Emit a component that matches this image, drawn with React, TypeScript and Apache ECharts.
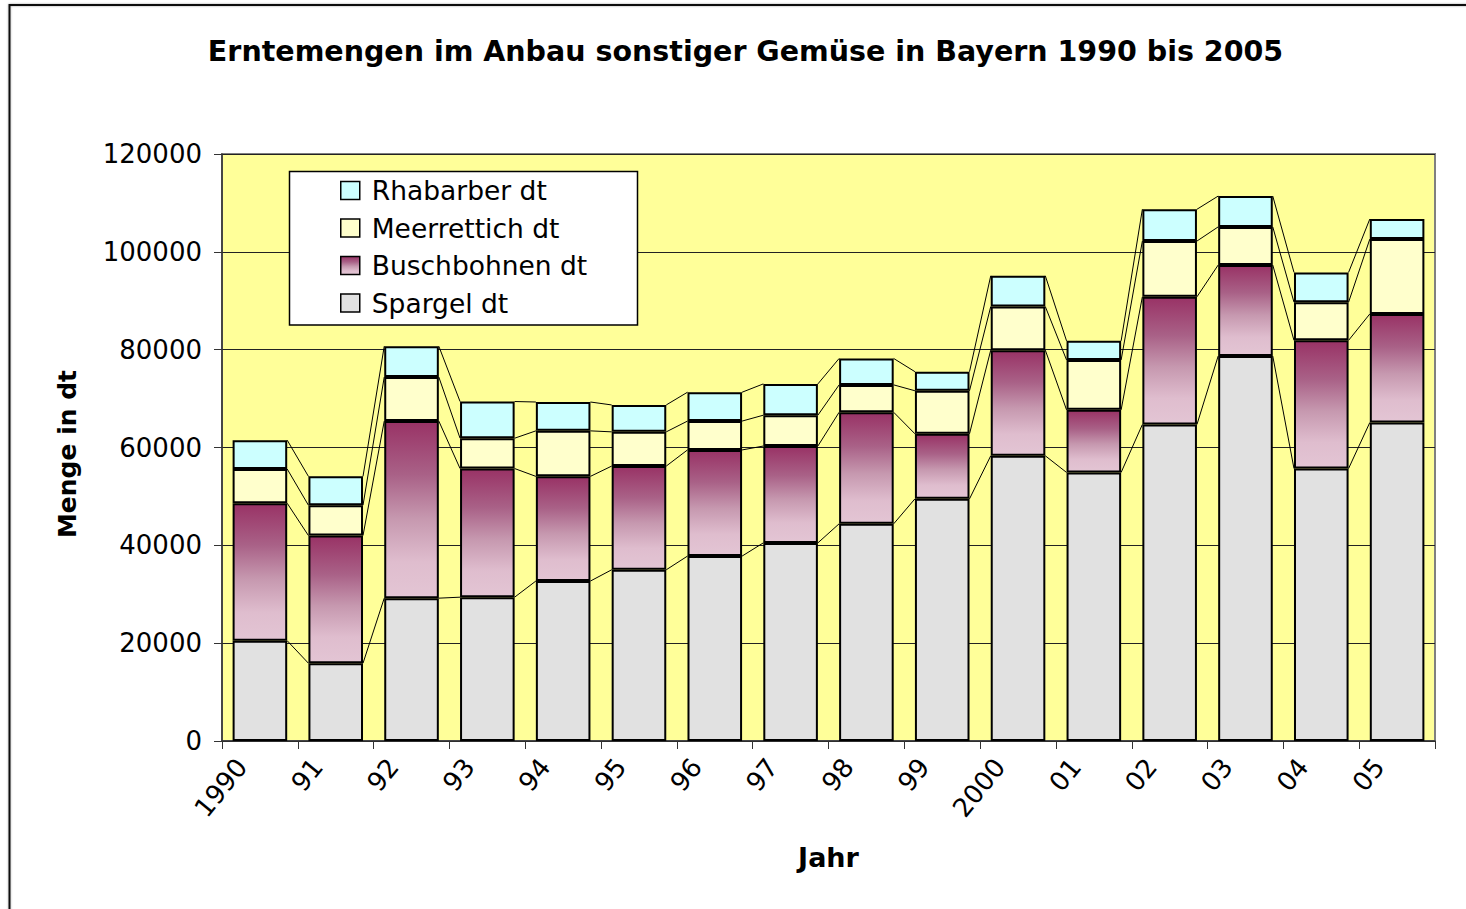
import React, { useEffect, useRef } from 'react';
import * as echarts from 'echarts';

const TITLE = 'Erntemengen im Anbau sonstiger Gemüse in Bayern 1990 bis 2005';
const Y_TITLE = 'Menge in dt';
const X_TITLE = 'Jahr';

const years = ['1990', '91', '92', '93', '94', '95', '96', '97', '98', '99', '2000', '01', '02', '03', '04', '05'];
const spargel = [20500, 15900, 29200, 29400, 32700, 35000, 37800, 40500, 44400, 49500, 58300, 54900, 64700, 78700, 55700, 65100];
const buschbohnen = [28100, 26100, 36200, 26300, 21400, 21200, 21700, 19800, 22800, 13300, 21600, 12800, 26100, 18600, 26200, 22200];
const meerrettich = [7000, 6200, 9000, 6200, 9300, 7000, 5900, 6300, 5600, 8800, 8900, 10200, 11400, 7800, 7800, 15300];
const rhabarber = [5900, 5900, 6300, 7500, 5900, 5500, 5900, 6400, 5400, 3900, 6300, 3900, 6500, 6300, 6100, 4100];

const Y_MIN = 0;
const Y_MAX = 120000;
const Y_STEP = 20000;

const seriesNames = ['Spargel dt', 'Buschbohnen dt', 'Meerrettich dt', 'Rhabarber dt'];
const legendOrder = ['Rhabarber dt', 'Meerrettich dt', 'Buschbohnen dt', 'Spargel dt'];

const FONT = 'DejaVu Sans';
const BAR_RATIO = 0.72;

export default function App() {
  const ref = useRef<HTMLDivElement>(null);

  useEffect(() => {
    if (!ref.current) return;
    const chart = echarts.init(ref.current, undefined, { renderer: 'svg' });

    const values = [spargel, buschbohnen, meerrettich, rhabarber];
    const cumulative: number[][] = [];
    values.forEach((arr, k) => {
      cumulative.push(arr.map((v, i) => v + (k > 0 ? cumulative[k - 1][i] : 0)));
    });

    const buschGradient = new echarts.graphic.LinearGradient(0, 0, 0, 1, [
      { offset: 0, color: '#993366' },
      { offset: 0.3, color: '#A96187' },
      { offset: 0.55, color: '#C698AF' },
      { offset: 0.8, color: '#DFBDCE' },
      { offset: 1, color: '#E3C5D4' },
    ]);
    const colors = ['#E1E1E1', buschGradient, '#FFFFCC', '#CCFFFF'];

    const barSeries = seriesNames.map((name, k) => ({
      name,
      type: 'bar',
      stack: 'total',
      barWidth: `${BAR_RATIO * 100}%`,
      z: 3,
      data: values[k],
      itemStyle: { color: colors[k], borderColor: '#000', borderWidth: 2 },
      emphasis: { disabled: true },
    }));

    const connectorSeries = {
      name: 'connectors',
      type: 'custom',
      z: 2,
      silent: true,
      data: years.slice(0, -1).map((_, i) => [i, cumulative[3][i]]),
      encode: { x: 0, y: 1 },
      renderItem: (params: any, api: any) => {
        const i = api.value(0) as number;
        const band = api.size([1, 0])[0];
        const half = (band * BAR_RATIO) / 2;
        const children = cumulative.map((arr) => {
          const p1 = api.coord([i, arr[i]]);
          const p2 = api.coord([i + 1, arr[i + 1]]);
          return {
            type: 'line',
            shape: { x1: p1[0] + half, y1: p1[1], x2: p2[0] - half, y2: p2[1] },
            style: { stroke: '#000', lineWidth: 1, fill: null },
          };
        });
        return { type: 'group', children };
      },
    };

    chart.setOption({
      animation: false,
      backgroundColor: '#ffffff',
      grid: {
        left: 222,
        right: 31,
        top: 154,
        bottom: 168,
        show: true,
        backgroundColor: '#FFFF99',
        borderColor: '#808080',
        borderWidth: 2,
      },
      legend: {
        data: legendOrder,
        orient: 'vertical',
        left: 340,
        top: 177,
        padding: 0,
        icon: 'rect',
        itemWidth: 19,
        itemHeight: 18,
        itemGap: 10.5,
        selectedMode: false,
        itemStyle: { borderColor: '#000', borderWidth: 1.5 },
        textStyle: {
          fontFamily: FONT,
          fontSize: 26.5,
          lineHeight: 25,
          color: '#000',
          padding: [0, 0, 0, 7],
        },
        z: 10,
      },
      xAxis: {
        type: 'category',
        data: years,
        boundaryGap: true,
        axisLine: { lineStyle: { color: '#333', width: 1.5 } },
        axisTick: { show: true, length: 8, alignWithLabel: false, interval: 0, lineStyle: { color: '#333' } },
        axisLabel: {
          interval: 0,
          rotate: 51,
          margin: 19,
          fontFamily: FONT,
          fontSize: 26,
          color: '#000',
          verticalAlign: 'bottom',
          padding: [0, 13, 0, 0],
        },
        splitLine: { show: false },
      },
      yAxis: {
        type: 'value',
        min: Y_MIN,
        max: Y_MAX,
        interval: Y_STEP,
        axisLine: { show: true, lineStyle: { color: '#333', width: 1.5 } },
        axisTick: { show: true, length: 8, lineStyle: { color: '#333' } },
        axisLabel: {
          margin: 20,
          fontFamily: FONT,
          fontSize: 26,
          color: '#000',
          formatter: (v: number) => String(v),
        },
        splitLine: { show: true, lineStyle: { color: '#222', width: 1 } },
      },
      graphic: [
        {
          type: 'rect',
          z: -10,
          silent: true,
          shape: { x: 9.5, y: 5, width: 1600, height: 1000 },
          style: { fill: 'none', stroke: '#111', lineWidth: 2, shadowBlur: 2, shadowColor: 'rgba(0,0,0,0.35)' },
        },
        {
          type: 'rect',
          z: 8,
          silent: true,
          shape: { x: 289.5, y: 171.5, width: 348, height: 153.5 },
          style: { fill: '#ffffff', stroke: '#000', lineWidth: 1.5 },
        },
        {
          type: 'text',
          z: 10,
          x: 745.5,
          y: 51,
          style: {
            text: TITLE,
            fontFamily: FONT,
            fontWeight: 'bold',
            fontSize: 28.5,
            fill: '#000',
            align: 'center',
            verticalAlign: 'middle',
          },
        },
        {
          type: 'text',
          z: 10,
          x: 67,
          y: 454,
          rotation: Math.PI / 2,
          style: {
            text: Y_TITLE,
            fontFamily: FONT,
            fontWeight: 'bold',
            fontSize: 25,
            fill: '#000',
            align: 'center',
            verticalAlign: 'middle',
          },
        },
        {
          type: 'text',
          z: 10,
          x: 828.5,
          y: 857,
          style: {
            text: X_TITLE,
            fontFamily: FONT,
            fontWeight: 'bold',
            fontSize: 27,
            fill: '#000',
            align: 'center',
            verticalAlign: 'middle',
          },
        },
      ],
      series: [connectorSeries, ...barSeries],
    });

    return () => {
      chart.dispose();
    };
  }, []);

  return (
    <div
      ref={ref}
      style={{ position: 'absolute', left: 0, top: 0, width: 1466, height: 909, background: '#fff' }}
    />
  );
}
